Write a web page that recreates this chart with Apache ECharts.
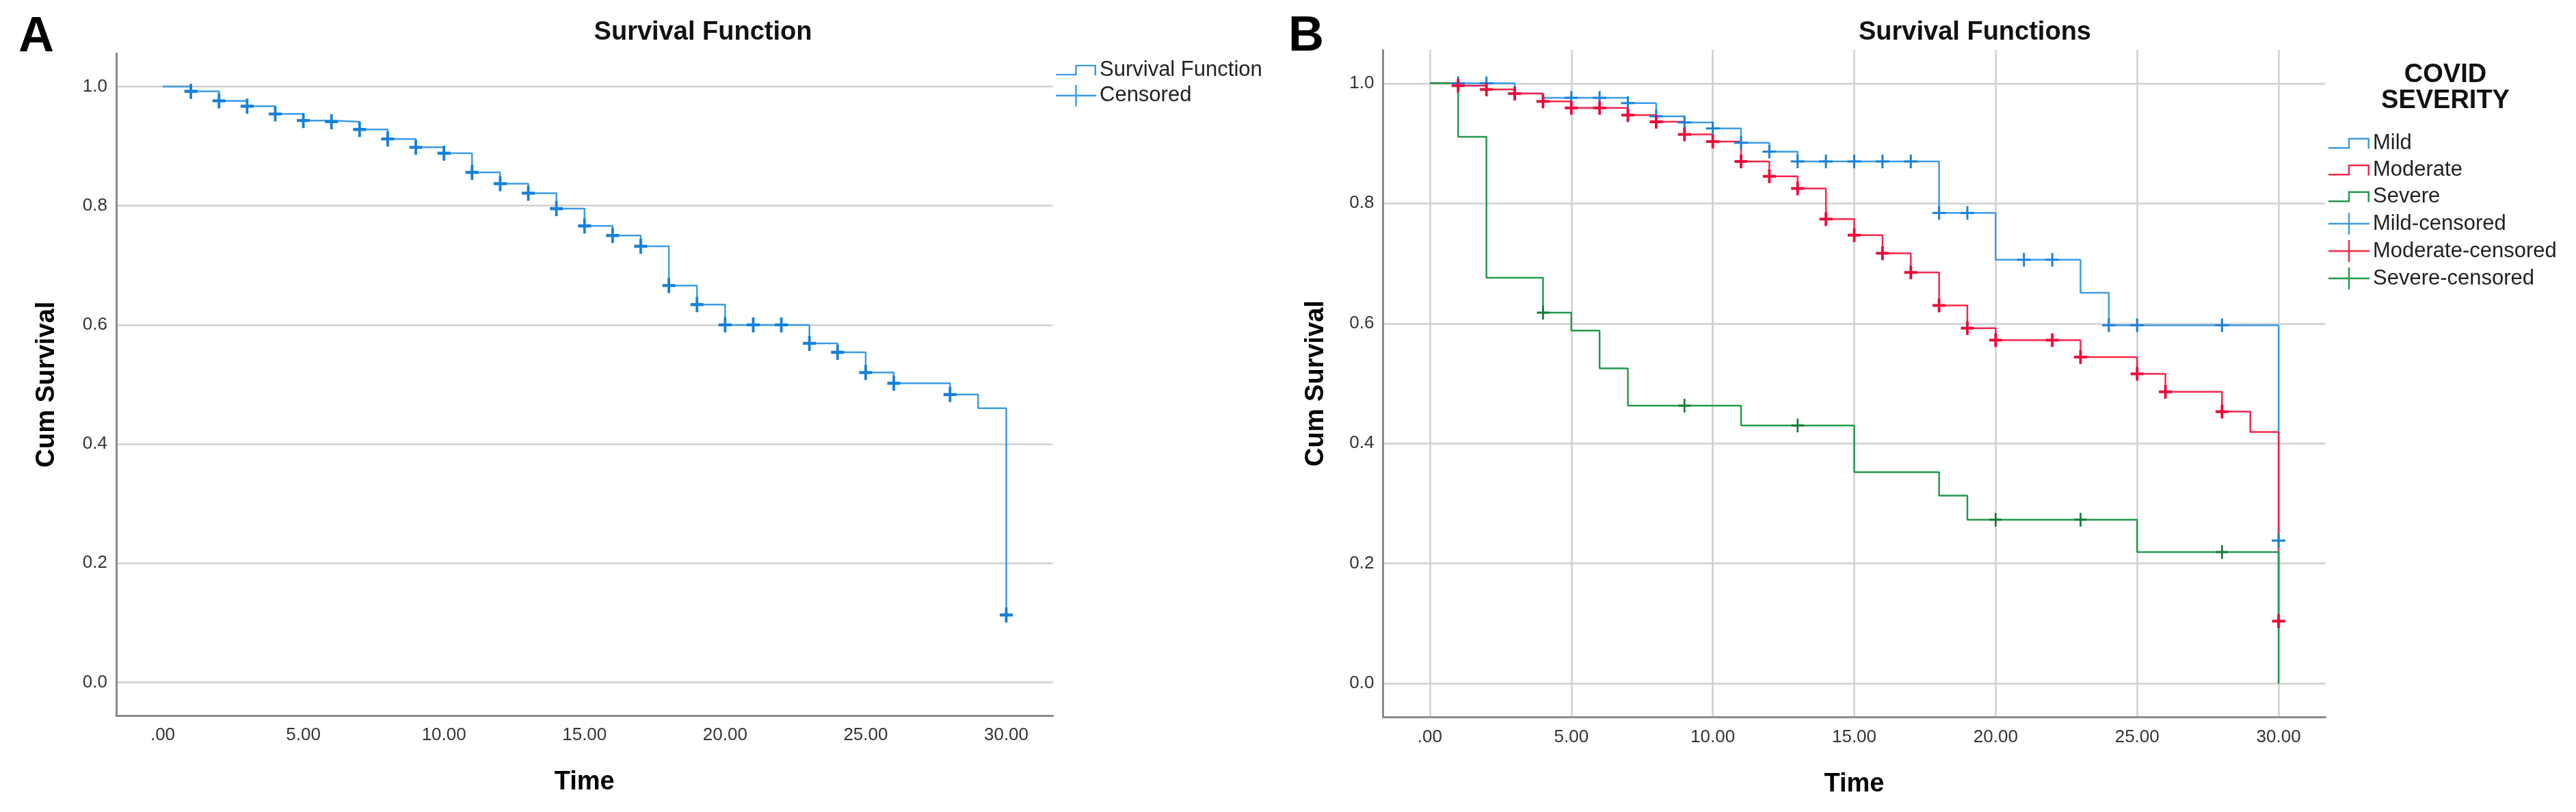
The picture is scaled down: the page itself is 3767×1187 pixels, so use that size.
<!DOCTYPE html>
<html>
<head>
<meta charset="utf-8">
<script src="https://cdn.jsdelivr.net/npm/echarts@6.0.0/dist/echarts.min.js"></script>
<style>
  html, body { margin: 0; padding: 0; background: #fff; }
  #chart { width: 3767px; height: 1187px; }
</style>
</head>
<body>
<div id="chart"></div>
<script>
// ---------- tick labels ----------
const xTickValues = [0, 5, 10, 15, 20, 25, 30];
const xTickLabels = ['.00', '5.00', '10.00', '15.00', '20.00', '25.00', '30.00'];
const yTickValues = [0, 0.2, 0.4, 0.6, 0.8, 1.0];
const yTickLabels = ['0.0', '0.2', '0.4', '0.6', '0.8', '1.0'];

// ---------- Panel A : overall survival ----------
const overallTime = [0,1,2,3,4,5,6,7,8,9,10,11,12,13,14,15,16,17,18,19,20,23,24,25,26,28,29,30];
const overallSurv = [1.000,0.992,0.976,0.967,0.954,0.943,0.941,0.928,0.912,0.898,0.888,0.856,0.837,0.821,0.795,0.766,0.750,0.732,0.666,0.634,0.600,0.569,0.554,0.520,0.502,0.483,0.460,0.113];
const overallCensTime = [1,2,3,4,5,6,7,8,9,10,11,12,13,14,15,16,17,18,19,20,21,22,23,24,25,26,28,30];
const overallCensSurv = [0.992,0.976,0.967,0.954,0.943,0.941,0.928,0.912,0.898,0.888,0.856,0.837,0.821,0.795,0.766,0.750,0.732,0.666,0.634,0.600,0.600,0.600,0.569,0.554,0.520,0.502,0.483,0.113];

// ---------- Panel B : by COVID severity ----------
const mildTime = [0,3,4,7,8,9,10,11,12,13,18,20,23,24,30];
const mildSurv = [1.000,0.983,0.976,0.967,0.945,0.935,0.925,0.901,0.886,0.870,0.784,0.706,0.651,0.597,0.238];
const mildCensTime = [1,2,3,5,6,7,8,9,10,11,12,13,14,15,16,17,18,19,21,22,24,25,28,30];
const mildCensSurv = [1.000,1.000,0.983,0.976,0.976,0.967,0.945,0.935,0.925,0.901,0.886,0.870,0.870,0.870,0.870,0.870,0.784,0.784,0.706,0.706,0.597,0.597,0.597,0.238];

const modTime = [0,1,2,3,4,5,7,8,9,10,11,12,13,14,15,16,17,18,19,20,23,25,26,28,29,30];
const modSurv = [1.000,0.996,0.990,0.983,0.970,0.959,0.947,0.936,0.915,0.903,0.870,0.845,0.825,0.774,0.747,0.717,0.685,0.630,0.592,0.572,0.544,0.516,0.486,0.453,0.419,0.104];
const modCensTime = [1,2,3,4,5,6,7,8,9,10,11,12,13,14,15,16,17,18,19,20,22,23,25,26,28,30];
const modCensSurv = [0.996,0.990,0.983,0.970,0.959,0.959,0.947,0.936,0.915,0.903,0.870,0.845,0.825,0.774,0.747,0.717,0.685,0.630,0.592,0.572,0.572,0.544,0.516,0.486,0.453,0.104];

const sevTime = [0,1,2,4,5,6,7,11,15,18,19,25,30];
const sevSurv = [1.000,0.911,0.676,0.618,0.588,0.525,0.463,0.430,0.352,0.313,0.273,0.219,0.000];
const sevCensTime = [4,9,13,20,23,28];
const sevCensSurv = [0.618,0.463,0.430,0.273,0.273,0.219];

// ---------- styling ----------
const FONT = '"Liberation Sans", Arial, sans-serif';
const BLUE_LINE = '#3d9be6', BLUE_MARK = '#1581d9';
const RED_LINE = '#f2274d', RED_MARK = '#f00538';
const GREEN_LINE = '#22994a', GREEN_MARK = '#117a35';
const AXIS_COLOR = '#8a8a8a';
const GRID_COLOR = '#cfcfcf';

const PLUS_THICK = 'path://M0,8 L8,8 L8,0 L12,0 L12,8 L20,8 L20,12 L12,12 L12,20 L8,20 L8,12 L0,12 Z';
const PLUS_THIN = 'path://M0,8.5 L8.5,8.5 L8.5,0 L11.5,0 L11.5,8.5 L20,8.5 L20,11.5 L11.5,11.5 L11.5,20 L8.5,20 L8.5,11.5 L0,11.5 Z';
const ICON_STEP = 'path://M0,13.5 L28.75,13.5 L28.75,0 L60,0 L60,16 L57.5,16 L57.5,2.5 L31.25,2.5 L31.25,16 L0,16 Z';
const ICON_PLUS = 'path://M0,14.75 L28.75,14.75 L28.75,0 L31.25,0 L31.25,14.75 L60,14.75 L60,17.25 L31.25,17.25 L31.25,32 L28.75,32 L28.75,17.25 L0,17.25 Z';

const pts = (ts, ss) => ts.map((t, i) => [t, ss[i]]);

const X_MIN = -1.654, X_MAX = 31.654;
const Y_MIN = -0.0557, Y_MAX = 1.0557;

function makeX(gridIndex, showSplit) {
  return {
    type: 'value', gridIndex: gridIndex, min: X_MIN, max: X_MAX,
    name: 'Time', nameLocation: 'middle', nameGap: gridIndex === 0 ? 79 : 80,
    nameTextStyle: { fontFamily: FONT, fontSize: 38, fontWeight: 'bold', color: '#000' },
    axisLine: { show: true, onZero: false, lineStyle: { color: AXIS_COLOR, width: 3 } },
    axisTick: { show: false, customValues: xTickValues },
    axisLabel: {
      customValues: xTickValues, fontFamily: FONT, fontSize: 26, color: '#333',
      margin: gridIndex === 0 ? 16 : 17,
      formatter: v => { const i = xTickValues.indexOf(v); return i >= 0 ? xTickLabels[i] : ''; }
    },
    splitLine: { show: showSplit, lineStyle: { color: GRID_COLOR, width: 2.5 } }
  };
}
function makeY(gridIndex) {
  return {
    type: 'value', gridIndex: gridIndex, min: Y_MIN, max: Y_MAX,
    name: 'Cum Survival', nameLocation: 'middle', nameGap: gridIndex === 0 ? 82 : 79,
    nameTextStyle: { fontFamily: FONT, fontSize: 38, fontWeight: 'bold', color: '#000' },
    axisLine: { show: true, onZero: false, lineStyle: { color: AXIS_COLOR, width: 3 } },
    axisTick: { show: false, customValues: yTickValues },
    axisLabel: {
      customValues: yTickValues, fontFamily: FONT, fontSize: 26, color: '#333', margin: 13,
      formatter: v => { const i = yTickValues.findIndex(t => Math.abs(t - v) < 1e-6); return i >= 0 ? yTickLabels[i] : ''; }
    },
    splitLine: { show: true, lineStyle: { color: GRID_COLOR, width: 2.5 } }
  };
}
function stepSeries(name, xi, data, color) {
  return {
    name: name, type: 'line', step: 'end', xAxisIndex: xi, yAxisIndex: xi,
    data: data, symbol: 'none', showSymbol: false, z: 3,
    lineStyle: { color: color, width: 2.5 }, itemStyle: { color: color },
    emphasis: { disabled: true }
  };
}
function censSeries(name, xi, data, color, symbol, size) {
  return {
    name: name, type: 'scatter', xAxisIndex: xi, yAxisIndex: xi,
    data: data, symbol: symbol, symbolSize: size, z: 4,
    itemStyle: { color: color, opacity: 1 }, emphasis: { disabled: true }
  };
}
function legendItem(name, icon, color) {
  return { name: name, icon: icon, itemStyle: { color: color, borderWidth: 0, opacity: 1 } };
}

const chart = echarts.init(document.getElementById('chart'), null, { renderer: 'canvas' });
chart.setOption({
  animation: false,
  backgroundColor: '#ffffff',
  grid: [
    { left: 170, top: 78, width: 1369.5, height: 968, containLabel: false, outerBoundsMode: 'none' },
    { left: 2022.5, top: 73, width: 1378, height: 975, containLabel: false, outerBoundsMode: 'none' }
  ],
  xAxis: [makeX(0, false), makeX(1, true)],
  yAxis: [makeY(0), makeY(1)],
  legend: [
    {
      left: 1544, top: 87, orient: 'vertical', padding: 0, itemGap: 6,
      itemWidth: 59, itemHeight: 32, selectedMode: false,
      textStyle: { fontFamily: FONT, fontSize: 31, color: '#222' },
      data: [legendItem('Survival Function', ICON_STEP, BLUE_LINE), legendItem('Censored', ICON_PLUS, BLUE_LINE)]
    },
    {
      left: 3405, top: 194, orient: 'vertical', padding: 0, itemGap: 8,
      itemWidth: 60, itemHeight: 32, selectedMode: false,
      textStyle: { fontFamily: FONT, fontSize: 31, color: '#222' },
      data: [
        legendItem('Mild', ICON_STEP, BLUE_LINE),
        legendItem('Moderate', ICON_STEP, RED_LINE),
        legendItem('Severe', ICON_STEP, GREEN_LINE),
        legendItem('Mild-censored', ICON_PLUS, BLUE_LINE),
        legendItem('Moderate-censored', ICON_PLUS, RED_LINE),
        legendItem('Severe-censored', ICON_PLUS, GREEN_LINE)
      ]
    }
  ],
  graphic: [
    { type: 'text', x: 53, y: 55, style: { text: 'A', font: 'bold 72px ' + FONT, fill: '#000', align: 'center', verticalAlign: 'middle' } },
    { type: 'text', x: 1910, y: 54, style: { text: 'B', font: 'bold 72px ' + FONT, fill: '#000', align: 'center', verticalAlign: 'middle' } },
    { type: 'text', x: 1028, y: 48, style: { text: 'Survival Function', font: 'bold 38px ' + FONT, fill: '#111', align: 'center', verticalAlign: 'middle' } },
    { type: 'text', x: 2888, y: 48, style: { text: 'Survival Functions', font: 'bold 38px ' + FONT, fill: '#111', align: 'center', verticalAlign: 'middle' } },
    { type: 'text', x: 3576, y: 110, style: { text: 'COVID', font: 'bold 38px ' + FONT, fill: '#111', align: 'center', verticalAlign: 'middle' } },
    { type: 'text', x: 3576, y: 148, style: { text: 'SEVERITY', font: 'bold 38px ' + FONT, fill: '#111', align: 'center', verticalAlign: 'middle' } }
  ],
  series: [
    stepSeries('Survival Function', 0, pts(overallTime, overallSurv), BLUE_LINE),
    censSeries('Censored', 0, pts(overallCensTime, overallCensSurv), BLUE_MARK, PLUS_THICK, [19, 22]),

    stepSeries('Mild', 1, pts(mildTime, mildSurv), BLUE_LINE),
    stepSeries('Moderate', 1, pts(modTime, modSurv), RED_LINE),
    stepSeries('Severe', 1, pts(sevTime, sevSurv), GREEN_LINE),
    censSeries('Mild-censored', 1, pts(mildCensTime, mildCensSurv), BLUE_MARK, PLUS_THIN, [20, 20]),
    censSeries('Moderate-censored', 1, pts(modCensTime, modCensSurv), RED_MARK, PLUS_THICK, [19, 20]),
    censSeries('Severe-censored', 1, pts(sevCensTime, sevCensSurv), GREEN_MARK, PLUS_THIN, [18, 20])
  ]
});
</script>
</body>
</html>
